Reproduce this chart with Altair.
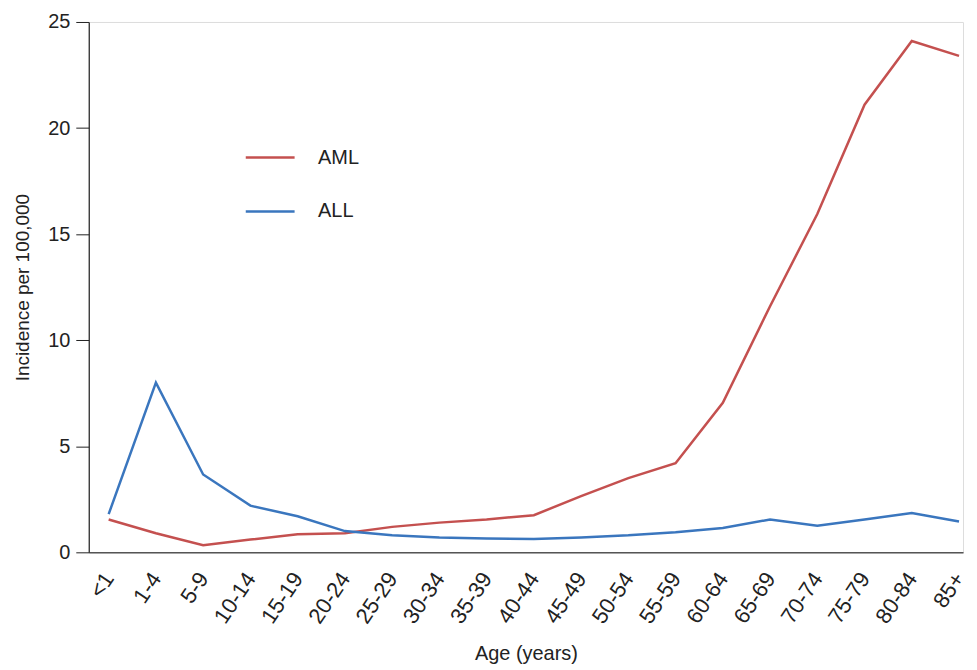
import altair as alt
import pandas as pd

ages = ["<1", "1-4", "5-9", "10-14", "15-19", "20-24", "25-29", "30-34", "35-39",
        "40-44", "45-49", "50-54", "55-59", "60-64", "65-69", "70-74", "75-79",
        "80-84", "85+"]
aml = [1.55, 0.9, 0.33, 0.6, 0.85, 0.9, 1.2, 1.4, 1.55, 1.75, 2.65, 3.5, 4.2,
       7.05, 11.6, 15.95, 21.1, 24.1, 23.4]
all_ = [1.8, 8.0, 3.67, 2.2, 1.7, 1.0, 0.8, 0.7, 0.65, 0.63, 0.7, 0.8, 0.95,
        1.15, 1.55, 1.25, 1.55, 1.85, 1.45]
series = ["AML", "ALL"]
colors = ["#c4504f", "#3a76be"]

rows = []
for i, a in enumerate(ages):
    rows.append({"age": a, "type": "AML", "value": aml[i], "order": i})
    rows.append({"age": a, "type": "ALL", "value": all_[i], "order": i})
df = pd.DataFrame(rows)

font = "Liberation Sans"

chart = alt.Chart(df).mark_line(strokeWidth=2.5).encode(
    x=alt.X("age:N", sort=ages, title="Age (years)",
            scale=alt.Scale(type="point", padding=0.253, align=0.833),
            axis=alt.Axis(labelAngle=-56, labelAlign="right", labelBaseline="middle",
                          ticks=False, labelPadding=22, labelFontSize=22,
                          titleFontSize=20, titlePadding=17, titleFontWeight="normal",
                          domainColor="#555555", domainWidth=1.5,
                          labelColor="#222222", titleColor="#222222",
                          labelFont=font, titleFont=font, grid=False)),
    y=alt.Y("value:Q", title="Incidence per 100,000",
            scale=alt.Scale(domain=[0, 25], nice=False),
            axis=alt.Axis(values=[0, 5, 10, 15, 20, 25], tickSize=13, tickColor="#222222",
                          domainColor="#222222", domainWidth=1.2, labelFontSize=20,
                          titleFontSize=19, labelPadding=6, titlePadding=15,
                          titleFontWeight="normal",
                          labelColor="#222222", titleColor="#222222",
                          labelFont=font, titleFont=font, grid=False)),
    color=alt.Color("type:N", scale=alt.Scale(domain=series, range=colors),
                    legend=alt.Legend(title=None, orient="none", legendX=156, legendY=110,
                                      symbolType="stroke", symbolSize=2400,
                                      symbolStrokeWidth=2.5, labelFontSize=20,
                                      labelFont=font, labelColor="#222222",
                                      rowPadding=18, labelOffset=22)),
    order="order:Q",
).properties(
    width=877, height=532,
    padding={"left": 5, "top": 3, "right": 0, "bottom": 0},
).configure_view(stroke=None).configure(font=font)

chart.save("out.html", embed_options={"renderer": "svg", "actions": False})
